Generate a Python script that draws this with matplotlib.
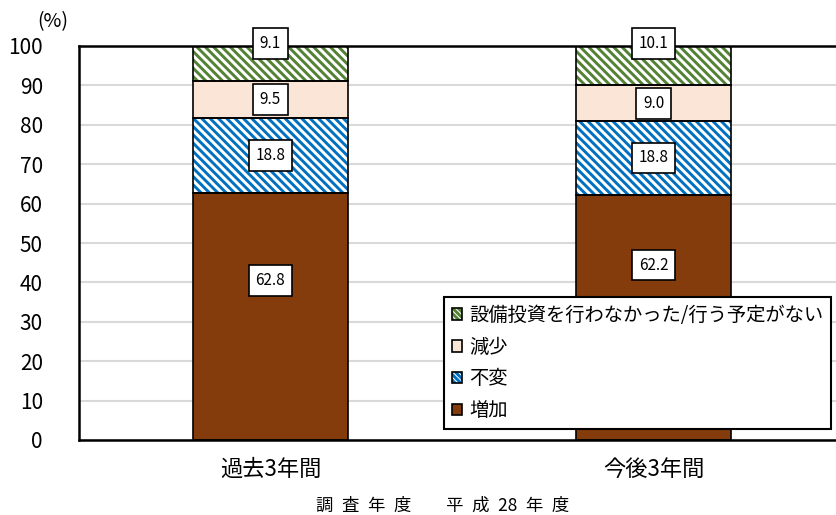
import matplotlib
matplotlib.use('Agg')
import matplotlib.pyplot as plt
from matplotlib.patches import Patch
from matplotlib.legend_handler import HandlerTuple

plt.rcParams['font.family'] = ['Noto Sans CJK JP', 'DejaVu Sans']
plt.rcParams['hatch.linewidth'] = 2.1

# 設備投資の動向（構成比, %）
categories = ['過去3年間', '今後3年間']
series_names = ['増加', '不変', '減少', '設備投資を行わなかった/行う予定がない']
zouka = [62.8, 62.2]
fuhen = [18.8, 18.8]
genshou = [9.5, 9.0]
nashi = [9.1, 10.1]
values = [zouka, fuhen, genshou, nashi]

colors = ['#843C0C', '#0070C0', '#FBE5D6', '#548235']
hatched = [False, True, False, True]
stripe = '\\' * 4

fig = plt.figure(figsize=(8.36, 5.15), dpi=100)
ax = fig.add_axes([79 / 836, 75 / 515, 766 / 836, 394 / 515])

x = list(range(len(categories)))
width = 0.405
bottom = [0.0] * len(categories)
for vals, c, hat in zip(values, colors, hatched):
    # fill + stripes first, then the black outline on top
    if hat:
        ax.bar(x, vals, width, bottom=bottom, facecolor='white', edgecolor=c,
               hatch=stripe, linewidth=0, zorder=2)
    else:
        ax.bar(x, vals, width, bottom=bottom, facecolor=c, linewidth=0, zorder=2)
    ax.bar(x, vals, width, bottom=bottom, facecolor='none',
           edgecolor='black', linewidth=1.2, zorder=3)
    bottom = [b + v for b, v in zip(bottom, vals)]

# data labels
box = dict(boxstyle='square,pad=0.45', facecolor='white', edgecolor='black', linewidth=1.2)
label_shift = [[9.0, 13.3], [0, 0], [0, 0], [0, 0]]
bottom = [0.0] * len(categories)
for k, vals in enumerate(values):
    for i, v in enumerate(vals):
        yc = bottom[i] + v / 2 + label_shift[k][i]
        if k == len(values) - 1:
            yc = 100.7
        ax.text(x[i], yc, f'{v:.1f}', ha='center', va='center', fontsize=11,
                bbox=box, zorder=5, clip_on=False)
    bottom = [b + v for b, v in zip(bottom, vals)]

ax.set_xlim(-0.5, 1.5)
ax.set_ylim(0, 100)
ax.set_yticks(range(0, 101, 10))
ax.set_xticks(x)
ax.set_xticklabels(categories, fontsize=16)
ax.tick_params(axis='y', length=0, pad=26, labelsize=15)
ax.tick_params(axis='x', length=0, pad=13)
ax.yaxis.grid(True, color='#D9D9D9', linewidth=1.5, zorder=0)
ax.set_axisbelow(True)
for side in ['top', 'bottom', 'left']:
    ax.spines[side].set_linewidth(1.8)
    ax.spines[side].set_color('black')
ax.spines['right'].set_visible(False)

fig.text(53 / 836, 1 - 22 / 515, '(%)', ha='center', va='center', fontsize=14)
fig.text(443 / 836, 1 - 506 / 515,
         '調\u2002査\u2002年\u2002度\u3000\u3000平\u2002成\u200228\u2002年\u2002度',
         ha='center', va='center', fontsize=12.5)

# legend keys: coloured fill/stripes with a black outline over them
handles = []
for c, hat in zip(colors, hatched):
    if hat:
        inner = Patch(facecolor='white', edgecolor=c, hatch='\\' * 6, linewidth=0)
    else:
        inner = Patch(facecolor=c, linewidth=0)
    outline = Patch(facecolor='none', edgecolor='black', linewidth=1.2)
    handles.append((inner, outline))
leg = ax.legend(handles[::-1], series_names[::-1], loc='upper right',
                bbox_to_anchor=(831 / 836, 1 - 297 / 515), bbox_transform=fig.transFigure,
                handler_map={tuple: HandlerTuple(ndivide=1, pad=0)},
                fontsize=13.9, frameon=True, fancybox=False, framealpha=1,
                edgecolor='black', handlelength=0.55, handleheight=0.55,
                handletextpad=0.35, labelspacing=0.56, borderpad=0.4, borderaxespad=0)
leg.get_frame().set_linewidth(1.5)
leg.set_zorder(6)

fig.savefig('out.png', dpi=100)
